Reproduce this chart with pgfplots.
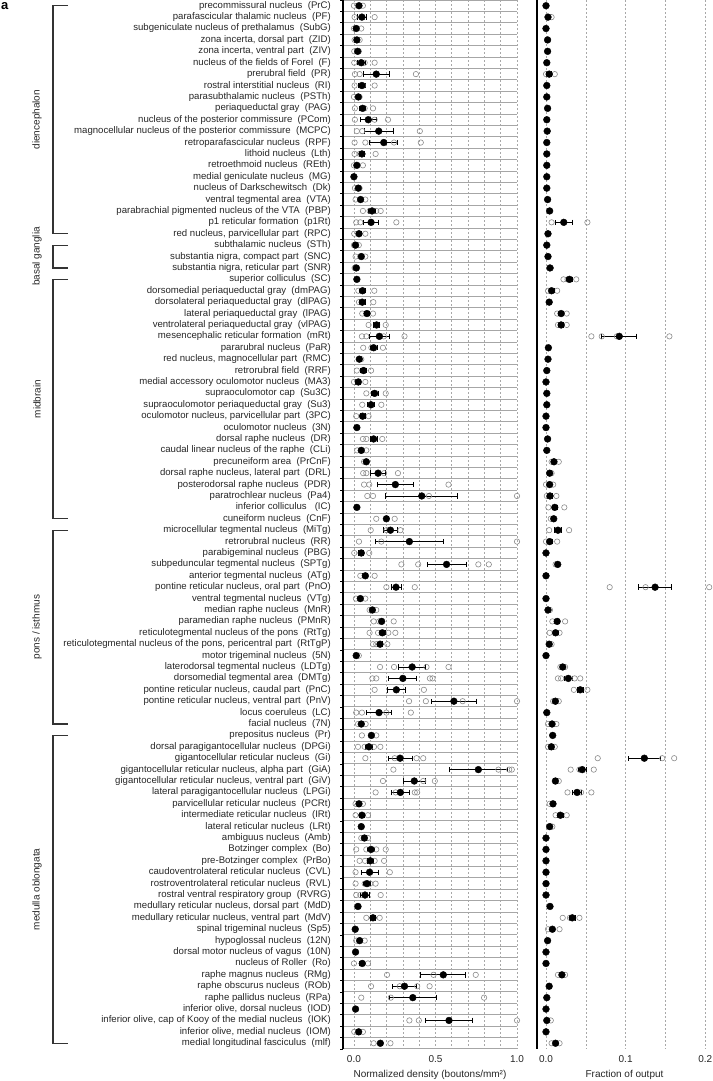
\documentclass[border=0pt]{standalone}
\usepackage{fontspec}
\setmainfont{Liberation Sans}
\usepackage{pgfplots}
\usepackage{pgfplotstable}
\pgfplotsset{compat=1.18}
\newcommand{\ab}[1]{\ \ (#1)}
\definecolor{txt}{HTML}{262626}
\definecolor{opengray}{HTML}{8A8A8A}
\definecolor{rowline}{HTML}{A6A6A6}
\definecolor{vgrid}{HTML}{A8A8A8}

% y = row index, m = mean density, e = error, r = mean fraction of output, re = error
\pgfplotstableread{
y m e r re
0 0.031 0.010 0.000 0
1 0.049 0.025 0.0025 0
2 0.014 0.008 0.000 0
3 0.018 0.008 0.002 0
4 0.023 0.006 0.002 0
5 0.045 0.025 0.001 0
6 0.137 0.081 0.004 0.003
7 0.049 0.020 0.001 0
8 0.027 0.006 0.001 0
9 0.053 0.018 0.002 0
10 0.088 0.048 0.001 0
11 0.152 0.087 0.0015 0
12 0.183 0.086 0.001 0
13 0.049 0.015 0.001 0
14 0.018 0.010 0.001 0
15 0.000 0.000 0.001 0
16 0.027 0.005 0.001 0
17 0.041 0.012 0.002 0
18 0.111 0.020 0.0046 0
19 0.105 0.047 0.0223 0.0103
20 0.031 0.012 0.0025 0
21 0.010 0.006 0.001 0
22 0.045 0.012 0.0025 0
23 0.014 0.004 0.005 0
24 0.018 0.004 0.0295 0.004
25 0.053 0.020 0.007 0.003
26 0.051 0.018 0.004 0
27 0.080 0.014 0.019 0.003
28 0.139 0.020 0.019 0.003
29 0.156 0.062 0.092 0.022
30 0.121 0.020 0.003 0
31 0.033 0.005 0.0025 0
32 0.059 0.018 0.001 0
33 0.027 0.015 0.000 0
34 0.127 0.020 0.001 0
35 0.105 0.020 0.001 0
36 0.053 0.015 0.000 0
37 0.018 0.000 0.000 0
38 0.121 0.020 0.002 0
39 0.045 0.010 0.001 0
40 0.076 0.005 0.010 0.002
41 0.148 0.045 0.0046 0
42 0.254 0.110 0.0046 0.002
43 0.416 0.220 0.005 0.003
44 0.018 0.000 0.011 0.003
45 0.199 0.015 0.0097 0
46 0.224 0.044 0.015 0.004
47 0.340 0.210 0.0046 0.003
48 0.045 0.015 0.000 0
49 0.568 0.120 0.0147 0.002
50 0.070 0.015 0.000 0
51 0.258 0.031 0.137 0.0204
52 0.039 0.010 0.000 0
53 0.113 0.008 0.0025 0
54 0.170 0.010 0.014 0.003
55 0.174 0.020 0.012 0.003
56 0.160 0.015 0.004 0
57 0.014 0.003 0.000 0
58 0.357 0.082 0.021 0.002
59 0.300 0.086 0.028 0.005
60 0.260 0.053 0.043 0.004
61 0.613 0.140 0.0118 0.002
62 0.154 0.076 0.001 0
63 0.045 0.010 0.0076 0.002
64 0.107 0.015 0.0084 0
65 0.092 0.020 0.0067 0.002
66 0.283 0.074 0.1235 0.020
67 0.763 0.176 0.0455 0.005
68 0.370 0.069 0.0118 0.002
69 0.285 0.057 0.039 0.006
70 0.031 0.010 0.0088 0.002
71 0.049 0.015 0.018 0.004
72 0.045 0.000 0.0046 0
73 0.064 0.010 0.000 0
74 0.105 0.020 0.000 0
75 0.100 0.020 0.000 0
76 0.096 0.053 0.000 0
77 0.080 0.020 0.000 0
78 0.068 0.029 0.000 0
79 0.025 0.003 0.005 0
80 0.117 0.015 0.033 0.004
81 0.008 0.000 0.008 0.002
82 0.035 0.010 0.002 0
83 0.010 0.000 0.000 0
84 0.051 0.015 0.000 0
85 0.548 0.138 0.020 0.002
86 0.310 0.074 0.004 0
87 0.361 0.144 0.001 0
88 0.010 0.000 0.000 0
89 0.583 0.144 0.001 0
90 0.029 0.008 0.000 0
91 0.162 0.010 0.012 0.002
}\means

% individual animals, normalized density
\pgfplotstableread{
y x
0 0.0
0 0.055
1 0.004
1 0.045
1 0.127
2 0.0
2 0.045
3 0.004
3 0.035
4 0.002
4 0.030
5 0.002
5 0.066
5 0.127
6 0.006
6 0.035
6 0.380
7 0.004
7 0.055
7 0.127
8 0.0
8 0.035
9 0.006
9 0.066
9 0.117
10 0.006
10 0.127
10 0.209
11 0.018
11 0.051
11 0.404
12 0.004
12 0.070
12 0.246
12 0.410
13 0.004
13 0.035
13 0.133
14 0.0
14 0.055
16 0.006
16 0.035
17 0.010
17 0.070
18 0.055
18 0.096
18 0.137
18 0.164
19 0.014
19 0.039
19 0.260
20 0.002
20 0.070
21 0.0
21 0.030
22 0.010
22 0.070
23 0.004
23 0.020
25 0.027
25 0.125
26 0.031
26 0.119
27 0.051
27 0.117
28 0.090
28 0.195
29 0.049
29 0.076
29 0.183
29 0.310
30 0.057
30 0.107
30 0.178
31 0.045
32 0.018
32 0.105
33 0.0
33 0.070
34 0.076
34 0.195
35 0.051
35 0.168
36 0.014
36 0.090
38 0.055
38 0.076
38 0.174
39 0.020
39 0.076
40 0.062
41 0.057
41 0.076
41 0.185
41 0.270
42 0.062
42 0.094
42 0.580
43 0.082
43 0.117
43 0.460
43 1.000
45 0.137
45 0.250
46 0.103
46 0.200
46 0.285
47 0.031
47 0.168
47 1.000
48 0.002
48 0.094
49 0.291
49 0.394
49 0.763
49 0.827
50 0.039
50 0.127
51 0.199
51 0.373
52 0.012
52 0.070
53 0.096
53 0.137
54 0.121
54 0.154
54 0.244
55 0.096
55 0.148
55 0.211
55 0.254
56 0.117
56 0.137
56 0.205
57 0.030
58 0.160
58 0.246
58 0.445
58 0.580
59 0.113
59 0.137
59 0.466
59 0.482
60 0.127
60 0.429
61 0.338
61 0.441
61 0.667
61 1.000
62 0.014
62 0.049
62 0.199
62 0.349
63 0.025
63 0.072
64 0.049
64 0.137
65 0.025
65 0.066
65 0.123
65 0.162
66 0.070
66 0.250
66 0.384
66 0.425
67 0.242
67 0.886
67 0.952
67 0.968
68 0.178
68 0.425
68 0.496
69 0.133
69 0.256
69 0.373
69 0.388
70 0.010
70 0.055
71 0.010
71 0.086
73 0.045
73 0.086
74 0.014
74 0.076
74 0.137
74 0.195
75 0.035
75 0.068
75 0.127
75 0.185
76 0.010
76 0.220
77 0.010
77 0.066
77 0.100
77 0.133
78 0.014
78 0.039
78 0.164
79 0.018
80 0.076
80 0.158
82 0.014
82 0.066
84 0.0
84 0.086
85 0.203
85 0.488
85 0.747
86 0.105
86 0.281
86 0.388
86 0.464
87 0.045
87 0.226
87 0.798
89 0.340
89 0.398
89 1.000
90 0.002
90 0.055
91 0.121
91 0.224
}\openL

% individual animals, fraction of output
\pgfplotstableread{
y x
1 0.007
6 0.0
6 0.011
19 0.007
19 0.052
23 0.006
24 0.022
24 0.027
24 0.038
25 0.0025
25 0.014
27 0.014
27 0.026
28 0.015
28 0.026
29 0.057
29 0.070
29 0.089
29 0.155
40 0.007
40 0.016
41 0.007
42 0.0
42 0.009
43 0.001
43 0.013
44 0.003
44 0.023
45 0.006
46 0.004
46 0.029
47 0.0
47 0.014
49 0.012
51 0.080
51 0.125
51 0.205
53 0.005
54 0.008
54 0.024
55 0.0046
55 0.017
56 0.007
58 0.018
58 0.024
59 0.015
59 0.019
59 0.036
59 0.043
60 0.035
60 0.052
61 0.009
61 0.016
63 0.0025
63 0.013
65 0.0025
65 0.011
66 0.065
66 0.146
66 0.161
67 0.031
67 0.042
67 0.060
68 0.016
69 0.027
69 0.044
69 0.057
70 0.0046
71 0.012
71 0.026
72 0.008
80 0.021
80 0.030
80 0.042
81 0.0025
81 0.017
85 0.015
85 0.024
89 0.006
91 0.007
91 0.017
}\openR

\pgfplotsset{
  panel/.style={
    scale only axis, height=1049pt,
    ymin=-0.5, ymax=91.5, y dir=reverse,
    axis lines*=left,
    y axis line style={black, line width=1.3pt},
    x axis line style={draw=none},
    minor ytick={-0.5,0.5,...,91.5},
    yminorgrids=true, xmajorgrids=true,
    minor grid style={rowline, line width=1pt},
    major grid style={vgrid, line width=0.6pt, dash pattern=on 2pt off 2pt},
    major tick length=0pt, minor tick length=3pt,
    tick align=outside,
    minor tick style={black, line width=0.8pt},
    xticklabel style={font=\fontsize{10}{12}\selectfont, text=txt, yshift=-3pt},
    xlabel style={font=\fontsize{10}{12}\selectfont, text=txt, yshift=-1pt},
    clip=false,
  },
  openpts/.style={only marks, mark=o, mark size=2.7pt, mark options={draw=opengray, line width=0.6pt}},
  meanpts/.style={only marks, mark=*, mark size=3.4pt, mark options={fill=black, draw=black},
    error bars/.cd, x dir=both, x explicit,
    error bar style={black, line width=0.8pt},
    error mark options={rotate=90, mark size=2.7pt, black, line width=0.8pt}},
}

\begin{document}
\begin{tikzpicture}
\useasboundingbox (0pt,0pt) rectangle (712pt,-1081pt);
\clip (0pt,0pt) rectangle (712pt,-1081pt);

\begin{axis}[panel, at={(343pt,0pt)}, anchor=north west, width=174pt,
  xmin=-0.067, xmax=1.0,
  xtick={0,0.1,0.2,0.3,0.4,0.5,0.6,0.7,0.8,0.9,1.0},
  xticklabels={0.0,,,,,0.5,,,,,1.0},
  xlabel={Normalized density (boutons/mm²)},
  ytick={0,...,91},
  yticklabel style={font=\fontsize{9.6}{11}\selectfont, text=txt, inner sep=0pt, xshift=-12pt},
  yticklabels={
precommissural nucleus\ab{PrC},
parafascicular thalamic nucleus\ab{PF},
subgeniculate nucleus of prethalamus\ab{SubG},
{zona incerta, dorsal part\ab{ZID}},
{zona incerta, ventral part\ab{ZIV}},
nucleus of the fields of Forel\ab{F},
prerubral field\ab{PR},
rostral interstitial nucleus\ab{RI},
parasubthalamic nucleus\ab{PSTh},
periaqueductal gray\ab{PAG},
nucleus of the posterior commissure\ab{PCom},
magnocellular nucleus of the posterior commissure\ab{MCPC},
retroparafascicular nucleus\ab{RPF},
lithoid nucleus\ab{Lth},
retroethmoid nucleus\ab{REth},
medial geniculate nucleus\ab{MG},
nucleus of Darkschewitsch\ab{Dk},
ventral tegmental area\ab{VTA},
parabrachial pigmented nucleus of the VTA\ab{PBP},
p1 reticular formation\ab{p1Rt},
{red nucleus, parvicellular part\ab{RPC}},
subthalamic nucleus\ab{STh},
{substantia nigra, compact part\ab{SNC}},
{substantia nigra, reticular part\ab{SNR}},
superior colliculus\ab{SC},
dorsomedial periaqueductal gray\ab{dmPAG},
dorsolateral periaqueductal gray\ab{dlPAG},
lateral periaqueductal gray\ab{lPAG},
ventrolateral periaqueductal gray\ab{vlPAG},
mesencephalic reticular formation\ab{mRt},
pararubral nucleus\ab{PaR},
{red nucleus, magnocellular part\ab{RMC}},
retrorubral field\ab{RRF},
medial accessory oculomotor nucleus\ab{MA3},
supraoculomotor cap\ab{Su3C},
supraoculomotor periaqueductal gray\ab{Su3},
{oculomotor nucleus, parvicellular part\ab{3PC}},
oculomotor nucleus\ab{3N},
dorsal raphe nucleus\ab{DR},
caudal linear nucleus of the raphe\ab{CLi},
precuneiform area\ab{PrCnF},
{dorsal raphe nucleus, lateral part\ab{DRL}},
posterodorsal raphe nucleus\ab{PDR},
paratrochlear nucleus\ab{Pa4},
inferior colliculus\ \ab{IC},
cuneiform nucleus\ab{CnF},
microcellular tegmental nucleus\ab{MiTg},
retrorubral nucleus\ab{RR},
parabigeminal nucleus\ab{PBG},
subpeduncular tegmental nucleus\ab{SPTg},
anterior tegmental nucleus\ab{ATg},
{pontine reticular nucleus, oral part\ab{PnO}},
ventral tegmental nucleus\ab{VTg},
median raphe nucleus\ab{MnR},
paramedian raphe nucleus\ab{PMnR},
reticulotegmental nucleus of the pons\ab{RtTg},
{reticulotegmental nucleus of the pons, pericentral part\ab{RtTgP}},
motor trigeminal nucleus\ab{5N},
laterodorsal tegmental nucleus\ab{LDTg},
dorsomedial tegmental area\ab{DMTg},
{pontine reticular nucleus, caudal part\ab{PnC}},
{pontine reticular nucleus, ventral part\ab{PnV}},
locus coeruleus\ab{LC},
facial nucleus\ab{7N},
prepositus nucleus\ab{Pr},
dorsal paragigantocellular nucleus\ab{DPGi},
gigantocellular reticular nucleus\ab{Gi},
{gigantocellular reticular nucleus, alpha part\ab{GiA}},
{gigantocellular reticular nucleus, ventral part\ab{GiV}},
lateral paragigantocellular nucleus\ab{LPGi},
parvicellular reticular nucleus\ab{PCRt},
intermediate reticular nucleus\ab{IRt},
lateral reticular nucleus\ab{LRt},
ambiguus nucleus\ab{Amb},
Botzinger complex\ab{Bo},
pre-Botzinger complex\ab{PrBo},
caudoventrolateral reticular nucleus\ab{CVL},
rostroventrolateral reticular nucleus\ab{RVL},
rostral ventral respiratory group\ab{RVRG},
{medullary reticular nucleus, dorsal part\ab{MdD}},
{medullary reticular nucleus, ventral part\ab{MdV}},
spinal trigeminal nucleus\ab{Sp5},
hypoglossal nucleus\ab{12N},
dorsal motor nucleus of vagus\ab{10N},
nucleus of Roller\ab{Ro},
raphe magnus nucleus\ab{RMg},
raphe obscurus nucleus\ab{ROb},
raphe pallidus nucleus\ab{RPa},
{inferior olive, dorsal nucleus\ab{IOD}},
{inferior olive, cap of Kooy of the medial nucleus\ab{IOK}},
{inferior olive, medial nucleus\ab{IOM}},
medial longitudinal fasciculus\ab{mlf}
  },
]
\addplot+[openpts] table[x=x, y=y] {\openL};
\addplot+[meanpts] table[x=m, y=y, x error=e] {\means};
\end{axis}

\begin{axis}[panel, at={(537pt,0pt)}, anchor=north west, width=175pt,
  xmin=-0.0113, xmax=0.2085,
  xtick={0,0.05,0.1,0.15,0.2},
  xticklabels={0.0,,0.1,,0.2},
  xlabel={Fraction of output},
  ytick=\empty,
]
\addplot+[openpts] table[x=x, y=y] {\openR};
\addplot+[meanpts] table[x=r, y=y, x error=re] {\means};
\end{axis}

% group brackets
\begin{scope}[draw=black!80, line width=1.2pt]
\draw (68pt,-5.70pt) -- (53pt,-5.70pt) -- (53pt,-233.74pt) -- (68pt,-233.74pt);
\draw (68pt,-245.14pt) -- (53pt,-245.14pt) -- (53pt,-267.95pt) -- (68pt,-267.95pt);
\draw (68pt,-279.35pt) -- (53pt,-279.35pt) -- (53pt,-518.79pt) -- (68pt,-518.79pt);
\draw (68pt,-530.19pt) -- (53pt,-530.19pt) -- (53pt,-724.03pt) -- (68pt,-724.03pt);
\draw (68pt,-735.43pt) -- (53pt,-735.43pt) -- (53pt,-1043.28pt) -- (68pt,-1043.28pt);
\end{scope}
\begin{scope}[every node/.style={rotate=90, font=\fontsize{10}{12}\selectfont, text=txt}]
\node at (37pt,-119.7pt) {diencephalon};
\node at (37pt,-256.5pt) {basal ganglia};
\node at (37pt,-399.1pt) {midbrain};
\node at (37pt,-627.1pt) {pons / isthmus};
\node at (37pt,-889.4pt) {medulla oblongata};
\end{scope}
\node[anchor=north west, inner sep=0pt, font=\bfseries\fontsize{13}{14}\selectfont] at (1pt,-2pt) {a};
\end{tikzpicture}
\end{document}
